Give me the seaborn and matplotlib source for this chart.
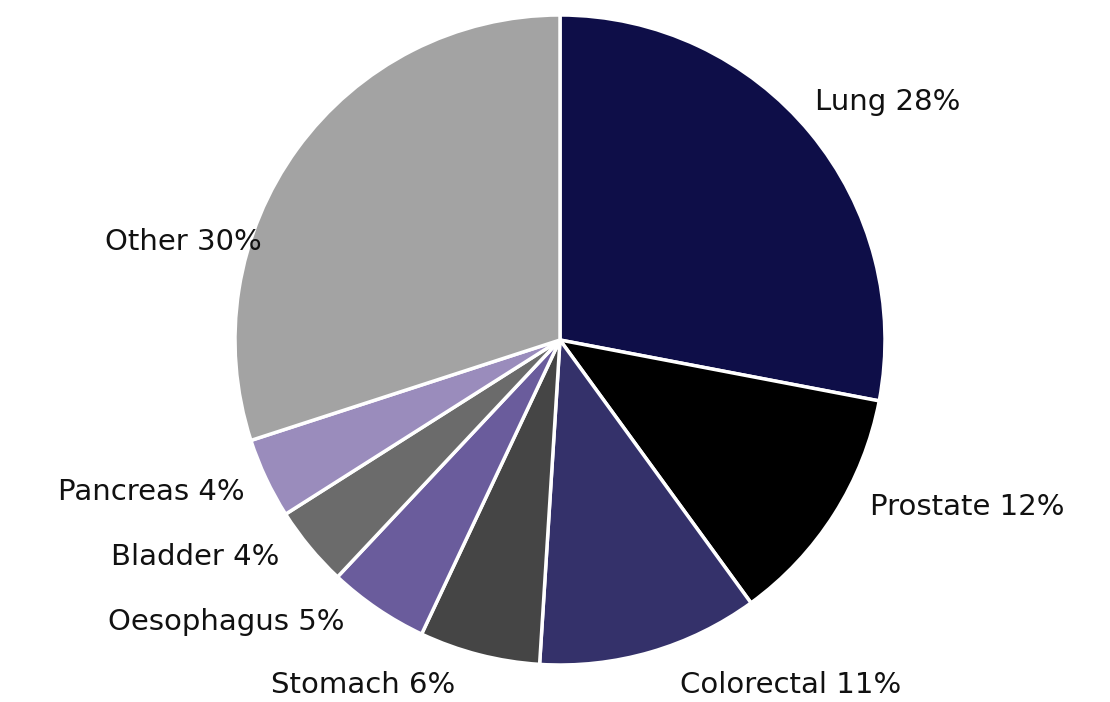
"""
Cancer deaths by site - pie chart recreated with seaborn/matplotlib.
"""

import matplotlib
matplotlib.use("Agg")
import matplotlib.pyplot as plt
import seaborn as sns

# ─── Data ─────────────────────────────────────────────────────────────────────
SITES = ["Lung", "Prostate", "Colorectal", "Stomach",
         "Oesophagus", "Bladder", "Pancreas", "Other"]
SHARES = [28, 12, 11, 6, 5, 4, 4, 30]

COLORS = ["#0e0e48", "#000000", "#34316a", "#454545",
          "#6a5c9c", "#6b6b6b", "#9a8cbc", "#a3a3a3"]

# label placement (layout only), in pie-radius units from the centre
LABEL_XY = [(0.785, 0.732), (0.954, -0.514), (0.369, -1.062), (-0.323, -1.062),
            (-0.662, -0.868), (-0.862, -0.668), (-0.969, -0.468), (-0.917, 0.302)]

sns.set_theme(style="white")
plt.rcParams["font.family"] = ["DejaVu Sans"]

fig = plt.figure(figsize=(11.1, 7.02), dpi=100)
# pie centre ~ (560, 340) px, radius ~ 325 px
ax = fig.add_axes([235 / 1110, (702 - 340 - 325) / 702, 650 / 1110, 650 / 702])

labels = [f"{s} {v}%" for s, v in zip(SITES, SHARES)]
wedges, texts = ax.pie(SHARES, labels=labels, colors=COLORS,
                       startangle=90, counterclock=False,
                       labeldistance=1.12,
                       wedgeprops=dict(edgecolor="white", linewidth=2.5),
                       textprops=dict(fontsize=21, color="#111111"))

for t, (x, y) in zip(texts, LABEL_XY):
    t.set_position((x, y))
    t.set_horizontalalignment("left" if x > 0 else "right")
    t.set_verticalalignment("center")
    t.set_clip_on(False)

ax.set_aspect("equal")
ax.set_xlim(-1, 1)
ax.set_ylim(-1, 1)
ax.axis("off")

fig.savefig("out.png", dpi=100, facecolor="white")
plt.close(fig)
